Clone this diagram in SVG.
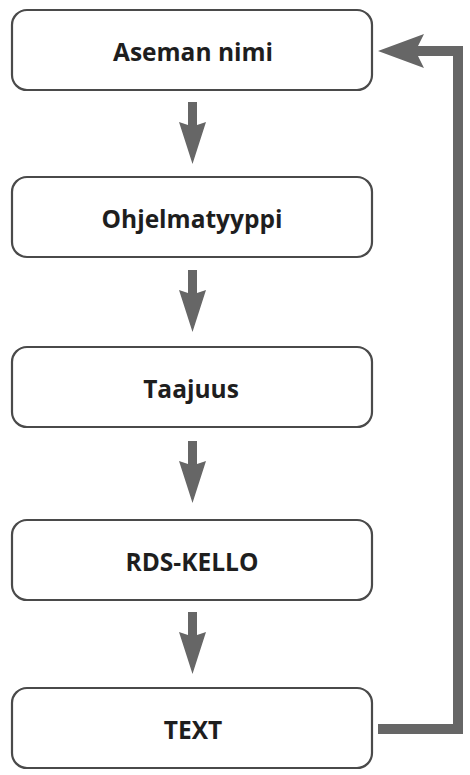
<svg xmlns="http://www.w3.org/2000/svg" width="470" height="775" viewBox="0 0 470 775">
<style>
.box{fill:#fff;stroke:#4a4a4a;stroke-width:2.2}
.lbl{font-family:"Open Sans","Liberation Sans",sans-serif;font-weight:bold;font-size:24.5px;fill:#1e1e1e;text-anchor:middle}
.conn{fill:#666;stroke:none}
</style>
<rect width="470" height="775" fill="#fff"/>
<g id="n1"><rect class="box" x="12" y="10" width="360" height="80" rx="15"/><text class="lbl" x="193" y="61">Aseman nimi</text></g>
<g id="n2"><rect class="box" x="12" y="177" width="360" height="80" rx="15"/><text class="lbl" x="192" y="228">Ohjelmatyyppi</text></g>
<g id="n3"><rect class="box" x="12" y="347" width="360" height="80" rx="15"/><text class="lbl" x="191" y="398">Taajuus</text></g>
<g id="n4"><rect class="box" x="12" y="520" width="360" height="80" rx="15"/><text class="lbl" x="192" y="571">RDS-KELLO</text></g>
<g id="n5"><rect class="box" x="12" y="688" width="360" height="80" rx="15"/><text class="lbl" x="193" y="739">TEXT</text></g>
<g id="connectors">
<path class="conn" d="M188,102 H197 V125 L206,122 L192.5,164 L179,122 L188,125 Z"/>
<path class="conn" d="M188,270 H197 V293 L206,290 L192.5,332 L179,290 L188,293 Z"/>
<path class="conn" d="M188,441 H197 V464 L206,461 L192.5,503 L179,461 L188,464 Z"/>
<path class="conn" d="M188,612 H197 V635 L206,632 L192.5,674 L179,632 L188,635 Z"/>
<path class="conn" d="M378,724 H453 V56 H418 L424,68 L378,51 L424,34 L418,46 H463 V734 H378 Z"/>
</g>
</svg>
